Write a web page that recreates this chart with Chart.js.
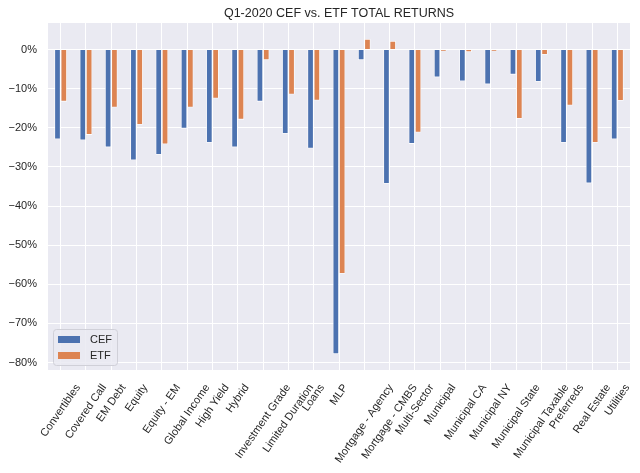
<!DOCTYPE html>
<html>
<head>
<meta charset="utf-8">
<script src="https://cdn.jsdelivr.net/npm/chart.js@4/dist/chart.umd.min.js"></script>
<style>
  html, body { margin: 0; padding: 0; background: #fff; }
  #wrap { width: 640px; height: 473px; }
</style>
</head>
<body>
<div id="wrap"><canvas id="myChart" width="640" height="473"></canvas></div>
<script>
const categories = [
  'Convertibles', 'Covered Call', 'EM Debt', 'Equity', 'Equity - EM', 'Global Income',
  'High Yield', 'Hybrid', 'Investment Grade', 'Limited Duration', 'Loans', 'MLP',
  'Mortgage - Agency', 'Mortgage - CMBS', 'Multi-Sector', 'Municipal', 'Municipal CA',
  'Municipal NY', 'Municipal State', 'Municipal Taxable', 'Preferreds', 'Real Estate', 'Utilities'
];
const cefReturns = [
  -22.9, -23.2, -25.0, -28.3, -26.9, -20.2, -23.8, -25.0, -13.3, -21.5, -25.3, -77.8,
  -2.7, -34.3, -24.1, -7.1, -8.1, -8.9, -6.4, -8.2, -23.8, -34.2, -22.9
];
const etfReturns = [
  -13.3, -21.8, -14.8, -19.2, -24.2, -14.8, -12.5, -17.9, -2.7, -11.5, -13.0, -57.3,
  2.7, 2.2, -21.2, -0.4, -0.6, -0.4, -17.7, -1.3, -14.3, -23.8, -13.1
];
const yTicks = [0, -10, -20, -30, -40, -50, -60, -70, -80];

const textColor = '#262626';
const fontFamily = '"Liberation Sans", Arial, sans-serif';
const labelAngle = 55 * Math.PI / 180;

// axes background, title, centred rotated x labels, legend inside plot (matplotlib style)
const decorPlugin = {
  id: 'decor',
  beforeDraw(chart) {
    const ctx = chart.ctx, a = chart.chartArea;
    ctx.save();
    ctx.fillStyle = '#EAEAF2';
    ctx.fillRect(a.left, a.top, a.right - a.left, a.bottom - a.top);
    ctx.restore();
  },
  afterDraw(chart) {
    const ctx = chart.ctx, a = chart.chartArea;
    ctx.save();
    ctx.fillStyle = textColor;
    ctx.font = '12.5px ' + fontFamily;
    ctx.textAlign = 'center';
    ctx.textBaseline = 'middle';
    ctx.fillText('Q1-2020 CEF vs. ETF TOTAL RETURNS', (a.left + a.right) / 2, 13.5);

    // x labels: rotated box centred under each tick, like matplotlib rot=55
    ctx.font = '11px ' + fontFamily;
    const xs = chart.scales.x;
    const h = 12.5;
    chart.data.labels.forEach((lab, i) => {
      const w = ctx.measureText(lab).width;
      const H = w * Math.sin(labelAngle) + h * Math.cos(labelAngle);
      const cx = xs.getPixelForValue(i);
      const cy = a.bottom + 12 + H / 2;
      ctx.save();
      ctx.translate(cx, cy);
      ctx.rotate(-labelAngle);
      ctx.fillText(lab, 0, 0);
      ctx.restore();
    });

    // legend box
    const x0 = a.left + 5, y0 = a.bottom - 41, w = 64, bh = 36;
    ctx.fillStyle = 'rgba(234,234,242,0.85)';
    ctx.strokeStyle = '#d0d0d8';
    ctx.lineWidth = 1;
    ctx.beginPath();
    ctx.roundRect(x0 + 0.5, y0 + 0.5, w, bh, 3);
    ctx.fill();
    ctx.stroke();
    ctx.textAlign = 'left';
    chart.data.datasets.forEach((ds, i) => {
      const cy = y0 + 10 + i * 16;
      ctx.fillStyle = ds.backgroundColor;
      ctx.fillRect(x0 + 5, cy - 3, 22, 7);
      ctx.fillStyle = textColor;
      ctx.fillText(ds.label, x0 + 37, cy + 1);
    });
    ctx.restore();
  }
};

const config = {
  type: 'bar',
  data: {
    labels: categories,
    datasets: [{
      label: 'CEF',
      data: cefReturns,
      backgroundColor: '#4C72B0',
      borderColor: 'rgba(255,255,255,0.9)',
      borderWidth: 0.8,
      categoryPercentage: 0.5,
      barPercentage: 1.0
    }, {
      label: 'ETF',
      data: etfReturns,
      backgroundColor: '#DD8452',
      borderColor: 'rgba(255,255,255,0.9)',
      borderWidth: 0.8,
      categoryPercentage: 0.5,
      barPercentage: 1.0
    }]
  },
  options: {
    responsive: false,
    animation: false,
    layout: { padding: { top: 23, right: 10, left: 0, bottom: 0 } },
    plugins: {
      legend: { display: false },
      title: { display: false },
      tooltip: { enabled: false }
    },
    scales: {
      x: {
        offset: true,
        grid: { color: '#ffffff', lineWidth: 1, offset: false, drawTicks: false },
        border: { display: false },
        ticks: { display: false },
        afterFit(scale) { scale.height = 103; }
      },
      y: {
        min: -81.9,
        max: 6.8,
        grid: { color: '#ffffff', lineWidth: 1, drawTicks: false },
        border: { display: false },
        afterBuildTicks(scale) {
          scale.ticks = yTicks.map(v => ({ value: v }));
        },
        ticks: {
          color: textColor,
          font: { size: 11, family: fontFamily },
          padding: 11,
          callback: v => (v < 0 ? '\u2212' + Math.abs(v) : v) + '%'
        },
        afterFit(scale) { scale.width = 48; }
      }
    }
  },
  plugins: [decorPlugin]
};

var myChart = document.getElementById('myChart').getContext('2d');
var theChart = new Chart(myChart, config);
</script>
</body>
</html>
